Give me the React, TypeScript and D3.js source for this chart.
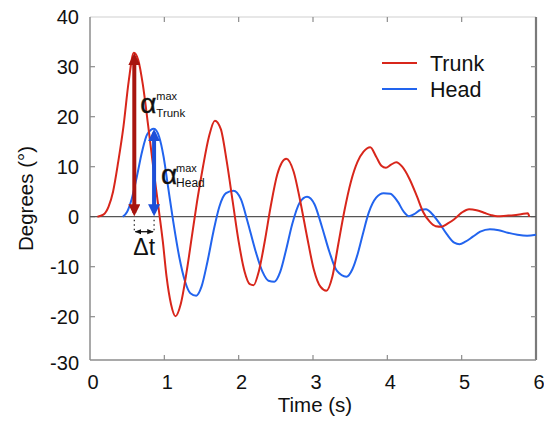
import React from "react";
import * as d3 from "d3";

// Time axis (s) and angle axis (degrees)
const xTicks = [0, 1, 2, 3, 4, 5, 6];
const yTicks = [-30, -20, -10, 0, 10, 20, 30, 40];

// Trunk angle over time: [time (s), degrees]
const trunkT = [0.10, 0.18, 0.25, 0.31, 0.38, 0.45, 0.52, 0.59, 0.65, 0.71, 0.78, 0.85, 0.92, 0.98, 1.03, 1.09, 1.15, 1.22, 1.30, 1.37, 1.44, 1.52, 1.60, 1.68, 1.76, 1.84, 1.92, 2.00, 2.08, 2.15, 2.20, 2.27, 2.35, 2.43, 2.52, 2.64, 2.74, 2.83, 2.92, 3.01, 3.10, 3.18, 3.26, 3.34, 3.42, 3.51, 3.60, 3.68, 3.77, 3.85, 3.92, 3.98, 4.05, 4.12, 4.20, 4.30, 4.40, 4.48, 4.57, 4.65, 4.73, 4.82, 4.90, 5.00, 5.10, 5.20, 5.30, 5.40, 5.48, 5.60, 5.70, 5.80, 5.89, 5.91];
const trunkV = [0, 0.4, 2, 5, 11, 18, 27, 32.8, 31.3, 26.5, 18.5, 10, 2, -5, -12, -17.5, -19.9, -17.5, -11, -4, 3, 10, 16, 19.2, 17.5, 11, 3, -5, -11, -13.5, -13.7, -11, -5, 2, 8.5, 11.6, 9, 3, -4, -10.5, -14, -14.8, -12, -5.5, 1, 7, 11, 13, 13.9, 12, 10.2, 9.8, 10.4, 10.9, 10, 7.5, 4, 1, -1, -1.9, -2, -1.3, -0.5, 0.8, 1.5, 1.3, 0.8, 0.3, 0.1, 0.2, 0.3, 0.5, 0.7, 0];

// Head angle over time: [time (s), degrees]
const headT = [0.44, 0.50, 0.56, 0.63, 0.70, 0.77, 0.86, 0.93, 0.99, 1.05, 1.12, 1.20, 1.28, 1.35, 1.43, 1.50, 1.58, 1.66, 1.74, 1.83, 1.93, 2.03, 2.12, 2.22, 2.32, 2.40, 2.48, 2.56, 2.64, 2.72, 2.82, 2.92, 3.02, 3.12, 3.22, 3.32, 3.45, 3.53, 3.60, 3.67, 3.75, 3.85, 3.95, 4.04, 4.14, 4.22, 4.29, 4.36, 4.45, 4.52, 4.60, 4.70, 4.80, 4.90, 4.97, 5.05, 5.15, 5.25, 5.38, 5.50, 5.62, 5.75, 5.88, 6.0];
const headV = [0, 1, 3.5, 8, 13, 16.5, 17.6, 16, 12, 6, -1, -8, -13, -15.3, -15.8, -14, -9, -3, 2, 4.7, 5.2, 3.5, -1, -6.5, -11, -12.8, -13, -11, -6.5, -1.5, 2.8, 4, 2.5, -2, -7, -10.8, -12, -10.5, -7.5, -3.5, 0.8, 3.8, 4.7, 4.6, 3, 1, 0.1, 0.5, 1.4, 1.5, 0.6, -1.3, -3.5, -5.2, -5.5, -5, -4, -3, -2.5, -2.7, -3.2, -3.6, -3.8, -3.6];

// Peak values marked by the arrows
const trunkPeak = { t: 0.596, v: 32.8 };
const headPeak = { t: 0.862, v: 17.6 };

const seriesNames = ["Trunk", "Head"];
const seriesColors = ["#d8261b", "#2264ee"];

const W = 544;
const H = 426;
const left = 90;
const right = 536;
const top = 17;
const bottom = 360;
const font = "Liberation Sans, Arial, sans-serif";

export default function App() {
  const x = d3.scaleLinear().domain([0, 6]).range([left, right]);
  const y = d3.scaleLinear().domain([-30, 40]).range([366.7, 16.7]);

  const line = d3
    .line<[number, number]>()
    .x((d) => x(d[0]))
    .y((d) => y(d[1]))
    .curve(d3.curveMonotoneX);

  const trunk = trunkT.map((t, i) => [t, trunkV[i]] as [number, number]);
  const head = headT.map((t, i) => [t, headV[i]] as [number, number]);

  const axisColor = "#8c8c8c";
  const tickLen = 5;

  const tx = x(trunkPeak.t);
  const hx = x(headPeak.t);
  const y0 = y(0);

  return (
    <svg
      width={W}
      height={H}
      style={{ position: "absolute", left: 0, top: 0, display: "block", background: "#fff" }}
      fontFamily={font}
    >
      <defs>
        <marker id="ahTrunk" viewBox="0 0 10 10" refX="7" refY="5" markerWidth="3" markerHeight="3" orient="auto-start-reverse">
          <path d="M0,0 L10,5 L0,10 z" fill="#a8150f" />
        </marker>
        <marker id="ahHead" viewBox="0 0 10 10" refX="7" refY="5" markerWidth="3" markerHeight="3" orient="auto-start-reverse">
          <path d="M0,0 L10,5 L0,10 z" fill="#1d4fd8" />
        </marker>
        <marker id="ahDt" viewBox="0 0 10 10" refX="9" refY="5" markerWidth="5" markerHeight="5" orient="auto-start-reverse">
          <path d="M0,1 L10,5 L0,9 z" fill="#111" />
        </marker>
      </defs>

      {/* frame */}
      <line x1={left} x2={right} y1={top} y2={top} stroke="#cfcfcf" strokeWidth={1} />
      <line x1={right} x2={right} y1={top} y2={bottom} stroke="#7a7a7a" strokeWidth={2.2} />
      <line x1={left} x2={left} y1={top} y2={bottom} stroke={axisColor} strokeWidth={1.5} />
      <line x1={left} x2={right} y1={bottom} y2={bottom} stroke={axisColor} strokeWidth={1.5} />

      {/* ticks */}
      {xTicks.slice(1, -1).map((t) => (
        <g key={"xt" + t}>
          <line x1={x(t)} x2={x(t)} y1={bottom} y2={bottom - tickLen} stroke={axisColor} strokeWidth={1.2} />
          <line x1={x(t)} x2={x(t)} y1={top} y2={top + tickLen} stroke={axisColor} strokeWidth={1.2} />
        </g>
      ))}
      {yTicks.filter((v) => v > -30 && v < 40).map((v) => (
        <g key={"yt" + v}>
          <line x1={left} x2={left + tickLen} y1={y(v)} y2={y(v)} stroke={axisColor} strokeWidth={1.2} />
          <line x1={right} x2={right - tickLen} y1={y(v)} y2={y(v)} stroke={axisColor} strokeWidth={1.2} />
        </g>
      ))}

      {/* tick labels */}
      {xTicks.map((t) => (
        <text key={"xl" + t} x={x(t) + 3} y={bottom + 29} fontSize={20} textAnchor="middle" fill="#111">
          {t}
        </text>
      ))}
      {yTicks.map((v) => (
        <text key={"yl" + v} x={left - 11} y={Math.min(y(v), bottom + 3) + 7} fontSize={20} textAnchor="end" fill="#111">
          {v}
        </text>
      ))}

      {/* axis titles */}
      <text x={(left + right) / 2 + 2} y={H - 14} fontSize={20.5} textAnchor="middle" fill="#111">
        Time (s)
      </text>
      <text
        transform={`translate(33, ${(top + bottom) / 2 + 10}) rotate(-90)`}
        fontSize={20.5}
        textAnchor="middle"
        fill="#111"
      >
        Degrees (°)
      </text>

      {/* zero line */}
      <line x1={left} x2={right} y1={y0} y2={y0} stroke="#555" strokeWidth={1.2} />

      {/* series */}
      <path d={line(head) ?? ""} fill="none" stroke={seriesColors[1]} strokeWidth={2} />
      <path d={line(trunk) ?? ""} fill="none" stroke={seriesColors[0]} strokeWidth={2} />

      {/* peak arrows */}
      <line x1={tx} x2={tx} y1={y(trunkPeak.v) + 4} y2={y0 - 4} stroke="#a8150f" strokeWidth={4}
        markerStart="url(#ahTrunk)" markerEnd="url(#ahTrunk)" />
      <line x1={hx} x2={hx} y1={y(headPeak.v) + 4} y2={y0 - 4} stroke="#1d4fd8" strokeWidth={4}
        markerStart="url(#ahHead)" markerEnd="url(#ahHead)" />

      {/* Δt between peaks */}
      <line x1={tx} x2={tx} y1={y0 + 3} y2={y0 + 16} stroke="#222" strokeWidth={1.2} strokeDasharray="1.5,3" />
      <line x1={hx} x2={hx} y1={y0 + 3} y2={y0 + 16} stroke="#222" strokeWidth={1.2} strokeDasharray="1.5,3" />
      <line x1={tx + 1} x2={hx - 1} y1={y0 + 15} y2={y0 + 15} stroke="#111" strokeWidth={1.3}
        markerStart="url(#ahDt)" markerEnd="url(#ahDt)" />
      <text x={(tx + hx) / 2} y={y0 + 38} fontSize={23} textAnchor="middle" fill="#111">
        Δt
      </text>

      {/* peak labels */}
      <text x={tx + 6} y={y(trunkPeak.v) + 60} fontSize={28} fill="#111" stroke="#111" strokeWidth={0.4}>α</text>
      <text x={tx + 22} y={y(trunkPeak.v) + 47} fontSize={11} fill="#111">max</text>
      <text x={tx + 22} y={y(trunkPeak.v) + 64} fontSize={11.5} fill="#111">Trunk</text>

      <text x={hx + 7} y={y(headPeak.v) + 55} fontSize={28} fill="#111" stroke="#111" strokeWidth={0.4}>α</text>
      <text x={hx + 22} y={y(headPeak.v) + 43} fontSize={11} fill="#111">max</text>
      <text x={hx + 22} y={y(headPeak.v) + 58} fontSize={12} fill="#111">Head</text>

      {/* legend */}
      {seriesNames.map((name, i) => (
        <g key={name}>
          <line x1={382} x2={417} y1={63 + i * 26} y2={63 + i * 26} stroke={seriesColors[i]} strokeWidth={2} />
          <text x={430} y={70.5 + i * 26} fontSize={21.5} fill="#111">
            {name}
          </text>
        </g>
      ))}
    </svg>
  );
}
